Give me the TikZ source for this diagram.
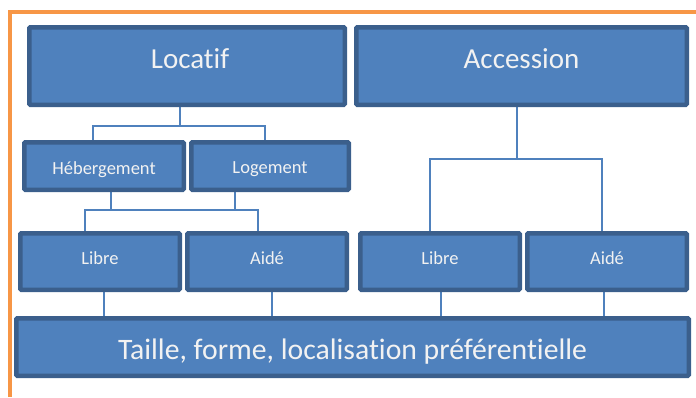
\documentclass[tikz,border=0pt]{standalone}
\usepackage{fontspec}
\setmainfont[Ligatures=NoCommon]{Carlito}
\usepackage{xcolor}
\usepackage{tikz}
\usetikzlibrary{calc,backgrounds}
\definecolor{boxfill}{HTML}{4F81BD}
\definecolor{boxline}{HTML}{3B5F8C}
\definecolor{frameorange}{HTML}{F79646}
\pgfkeys{tikz/orgbox/.style={draw=boxline,fill=boxfill,line width=4.5pt,text=white!95!black,inner sep=0pt,rounded corners=1pt}}
\pgfkeys{tikz/bigbox/.style={orgbox,font=\fontsize{29}{34}\selectfont}}
\pgfkeys{tikz/smallbox/.style={orgbox,font=\fontsize{18.5}{22}\selectfont}}
\pgfkeys{tikz/orglink/.style={draw=boxfill,line width=1.8pt}}
\newcommand*\lifttext[2]{\raisebox{#1}[\height][\depth]{#2}}

\begin{document}
\begin{tikzpicture}[x=1pt,y=-1pt]
    \useasboundingbox (0,0) rectangle (696,397);
    \draw[frameorange,line width=4pt] (10,397) -- (10,12) -- (696,12);
    % top row
    \node[bigbox,minimum width=315.5pt,minimum height=77.5pt] (loc) at (187,66) {\lifttext{7.5pt}{\hspace{6pt}Locatif}};
    \node[bigbox,minimum width=330.5pt,minimum height=77.5pt] (acc) at (521.5,66) {\lifttext{7.5pt}{Accession}};
    % second row
    \node[smallbox,minimum width=159.5pt,minimum height=47.5pt] (heb) at (104,166) {\lifttext{-3.5pt}{Hébergement}};
    \node[smallbox,minimum width=157.5pt,minimum height=47.5pt] (log) at (270,166) {\lifttext{-3.5pt}{Logement}};
    % third row
    \node[smallbox,minimum width=159.5pt,minimum height=56.5pt] (libA) at (100,261.5) {\lifttext{3.5pt}{Libre}};
    \node[smallbox,minimum width=159.5pt,minimum height=56.5pt] (aidA) at (267,261.5) {\lifttext{3.5pt}{Aidé}};
    \node[smallbox,minimum width=159.5pt,minimum height=56.5pt] (libB) at (440,261.5) {\lifttext{3.5pt}{Libre}};
    \node[smallbox,minimum width=159.5pt,minimum height=56.5pt] (aidB) at (607,261.5) {\lifttext{3.5pt}{Aidé}};
    % bottom
    \node[bigbox,font=\fontsize{29.7}{35}\selectfont,minimum width=672.5pt,minimum height=57.5pt] (tfl) at (352.5,347) {\lifttext{-4.5pt}{Taille, forme, localisation préférentielle}};
    \begin{pgfonlayer}{background}
        \draw[orglink] ([xshift=-7pt]loc.south) -- ++(0,19) coordinate (locj);
        \draw[orglink] ([xshift=-11pt]heb.north) |- (locj) -| ([xshift=-5pt]log.north);
        \draw[orglink] ([xshift=7pt]heb.south) -- ++(0,18) coordinate (hebj);
        \draw[orglink] ([xshift=-35pt]log.south) -- ++(0,18) coordinate (logj);
        \draw[orglink] ([xshift=-15pt]libA.north) |- (hebj) -- (logj) -| ([xshift=-9pt]aidA.north);
        \draw[orglink] ([xshift=-4.5pt]acc.south) -- ++(0,52) coordinate (accj);
        \draw[orglink] ([xshift=-10pt]libB.north) |- (accj) -| ([xshift=-5pt]aidB.north);
        \draw[orglink] ([xshift=4pt]libA.south) -- ([xshift=4pt]libA.south |- tfl.north);
        \draw[orglink] ([xshift=5pt]aidA.south) -- ([xshift=5pt]aidA.south |- tfl.north);
        \draw[orglink] ([xshift=1pt]libB.south) -- ([xshift=1pt]libB.south |- tfl.north);
        \draw[orglink] ([xshift=-3pt]aidB.south) -- ([xshift=-3pt]aidB.south |- tfl.north);
    \end{pgfonlayer}
\end{tikzpicture}
\end{document}
